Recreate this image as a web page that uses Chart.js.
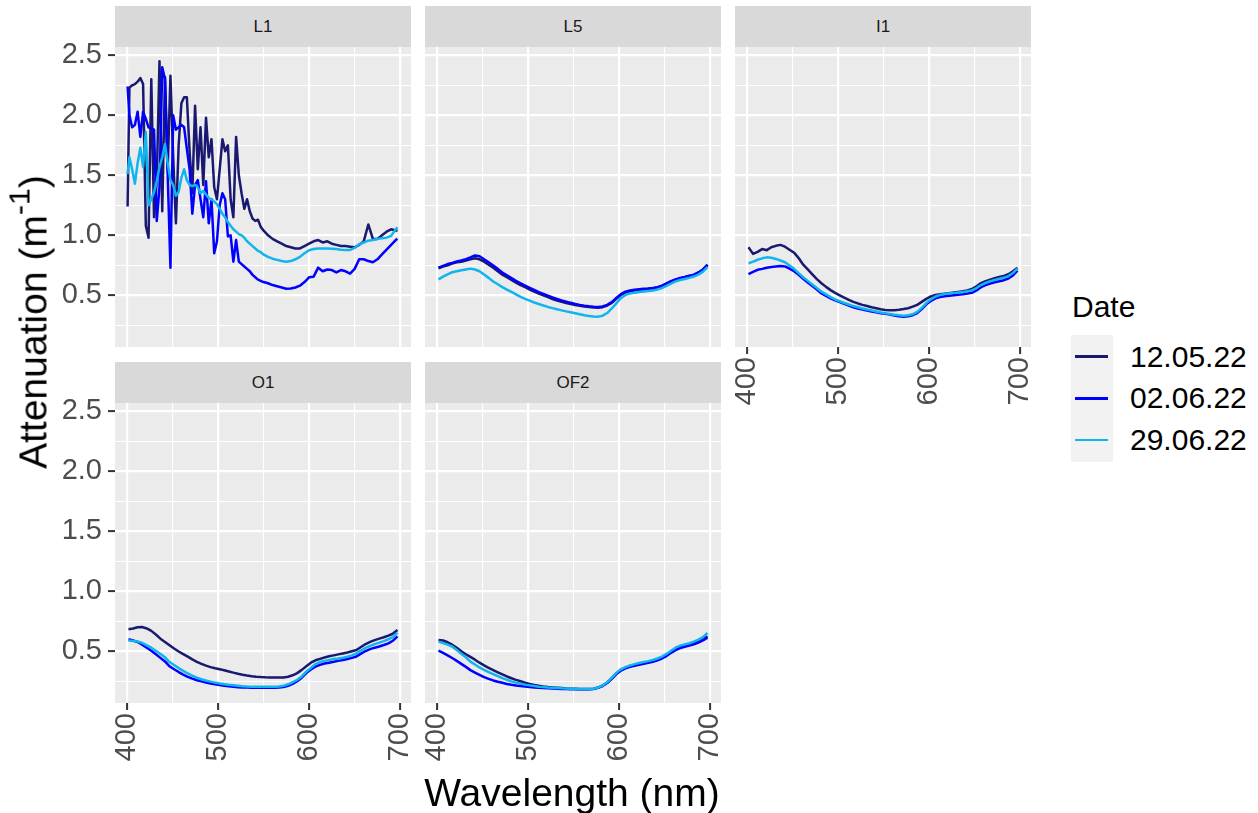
<!DOCTYPE html>
<html>
<head>
<meta charset="utf-8">
<script src="https://cdn.jsdelivr.net/npm/chart.js@4/dist/chart.umd.min.js"></script>
<style>
  html, body { margin: 0; padding: 0; background: #ffffff; }
  body { width: 1258px; height: 813px; position: relative; overflow: hidden;
         font-family: "Liberation Sans", Arial, Helvetica, sans-serif; }
  canvas { position: absolute; }
  .strip { position: absolute; background: #d9d9d9; color: #1a1a1a; font-size: 17px;
           display: flex; align-items: center; justify-content: center; }
  .title { position: absolute; color: #000; white-space: nowrap; font-size: 39px; line-height: 1; }
  .title sup { font-size: 0.78em; vertical-align: 0.55em; line-height: 0; }
  #legend-title { position: absolute; left: 1072px; top: 307px; transform: translateY(-50%);
                  font-size: 30px; line-height: 1; color: #000; }
  #legend-keys { position: absolute; left: 1071px; top: 335px; width: 42px; height: 127px; background: #f2f2f2; }
  .key-line { position: absolute; left: 4px; width: 33px; height: 2.6px; }
  .key-label { position: absolute; left: 1130px; font-size: 30px; line-height: 1; color: #000;
               transform: translateY(-50%); }
</style>
</head>
<body>
<script>
// ---- facets, dates and axis ticks ----
const panelNames = ['L1', 'L5', 'I1', 'O1', 'OF2'];
const dateLabels = ['12.05.22', '02.06.22', '29.06.22'];
const dateColors = ['#191970', '#0000ff', '#10b4ee'];
const yTickValues = [0.25, 0.5, 0.75, 1.0, 1.25, 1.5, 1.75, 2.0, 2.25, 2.5];
const yTickMajor = [0.5, 1.0, 1.5, 2.0, 2.5];
const xTickValues = [400, 450, 500, 550, 600, 650, 700];
const xTickMajor = [400, 500, 600, 700];

// ---- wavelengths (nm) ----
const wavelength = [402, 407, 412, 417, 422, 427, 432, 437, 442, 447,
  452, 457, 462, 467, 472, 477, 482, 487, 492, 497,
  502, 507, 512, 517, 522, 527, 532, 537, 542, 547,
  552, 557, 562, 567, 572, 577, 582, 587, 592, 597,
  602, 607, 612, 617, 622, 627, 632, 637, 642, 647,
  652, 657, 662, 667, 672, 677, 682, 687, 692, 697];
const wavelengthL1 = [401, 403, 406, 409, 412, 415, 418, 421, 424, 427,
  430, 433, 436, 439, 442, 445, 448, 451, 454, 457,
  460, 463, 466, 469, 472, 475, 478, 481, 484, 487,
  490, 493, 496, 499, 502, 505, 508, 511, 514, 517,
  520, 523, 526, 529, 532, 535, 538, 541, 544, 547, 550,
  555, 560, 565, 570, 575, 580, 585, 590, 595, 600,
  605, 610, 615, 620, 625, 630, 635, 640, 645, 650,
  655, 660, 665, 670, 675, 680, 685, 690, 695, 697];

// ---- attenuation (m^-1) per station and date ----
const l1_12May = [1.24, 2.23, 2.25, 2.26, 2.28, 2.31, 2.26, 1.08, 0.98, 2.30,
  1.15, 1.45, 2.45, 1.20, 2.32, 1.55, 2.33, 1.65, 1.10, 1.75,
  2.10, 2.15, 2.15, 1.70, 1.35, 2.08, 1.55, 1.90, 1.42, 1.98,
  1.65, 1.80, 1.40, 1.30, 1.55, 1.80, 1.70, 1.75, 1.30, 1.15,
  1.82, 1.50, 1.35, 1.22, 1.30, 1.20, 1.14, 1.12, 1.13, 1.07, 1.04,
  1.00, 0.97, 0.95, 0.93, 0.91, 0.90, 0.89, 0.89, 0.91, 0.93,
  0.95, 0.96, 0.94, 0.95, 0.93, 0.92, 0.91, 0.91, 0.905, 0.90,
  0.92, 0.95, 1.09, 0.97, 0.97, 1.00, 1.03, 1.05, 1.04, 1.04];
const l1_02Jun = [2.24, 2.00, 1.90, 1.92, 2.03, 1.82, 2.03, 1.97, 1.90, 1.89,
  1.88, 1.12, 1.40, 2.40, 2.30, 1.50, 0.73, 2.00, 1.88, 1.90,
  1.92, 1.90, 1.72, 1.55, 1.18, 1.42, 1.46, 1.30, 1.15, 1.45,
  1.10, 1.30, 0.85, 0.95, 1.25, 1.35, 1.30, 0.99, 1.00, 0.78,
  0.96, 0.78, 0.76, 0.74, 0.72, 0.70, 0.67, 0.65, 0.63, 0.62, 0.61,
  0.60, 0.585, 0.575, 0.565, 0.555, 0.556, 0.565, 0.58, 0.61, 0.65,
  0.655, 0.73, 0.70, 0.715, 0.71, 0.69, 0.71, 0.70, 0.68, 0.72,
  0.80, 0.80, 0.785, 0.775, 0.80, 0.84, 0.88, 0.92, 0.96, 0.97];
const l1_29Jun = [1.51, 1.65, 1.55, 1.43, 1.60, 1.73, 1.57, 1.86, 1.25, 1.30,
  1.36, 1.45, 1.57, 1.65, 1.76, 1.60, 1.46, 1.42, 1.33, 1.36,
  1.48, 1.55, 1.46, 1.42, 1.41, 1.42, 1.40, 1.35, 1.37, 1.34,
  1.31, 1.30, 1.28, 1.26, 1.22, 1.18, 1.15, 1.11, 1.08, 1.05,
  1.03, 1.01, 1.00, 0.98, 0.95, 0.93, 0.91, 0.89, 0.87, 0.86, 0.84,
  0.82, 0.805, 0.795, 0.785, 0.78, 0.785, 0.80, 0.82, 0.85, 0.875,
  0.885, 0.89, 0.89, 0.89, 0.888, 0.885, 0.88, 0.878, 0.878, 0.895,
  0.925, 0.94, 0.955, 0.96, 0.97, 0.975, 0.98, 0.995, 1.05, 1.065];

const l5_12May = [0.725, 0.74, 0.75, 0.765, 0.775, 0.78, 0.79, 0.80, 0.808, 0.80,
  0.78, 0.755, 0.73, 0.70, 0.672, 0.65, 0.627, 0.605, 0.585, 0.567,
  0.548, 0.53, 0.515, 0.50, 0.484, 0.469, 0.457, 0.446, 0.436, 0.427,
  0.419, 0.412, 0.406, 0.402, 0.398, 0.397, 0.401, 0.415, 0.437, 0.47,
  0.503, 0.522, 0.533, 0.54, 0.545, 0.549, 0.553, 0.557, 0.565, 0.575,
  0.595, 0.613, 0.63, 0.641, 0.65, 0.66, 0.67, 0.688, 0.712, 0.752];
const l5_02Jun = [0.73, 0.745, 0.76, 0.77, 0.782, 0.79, 0.80, 0.815, 0.832, 0.825,
  0.80, 0.775, 0.748, 0.72, 0.69, 0.667, 0.643, 0.62, 0.60, 0.58,
  0.562, 0.544, 0.527, 0.512, 0.496, 0.482, 0.469, 0.457, 0.447, 0.437,
  0.428, 0.42, 0.413, 0.408, 0.404, 0.403, 0.407, 0.42, 0.443, 0.477,
  0.51, 0.53, 0.54, 0.546, 0.55, 0.554, 0.557, 0.561, 0.568, 0.58,
  0.60, 0.618, 0.633, 0.645, 0.653, 0.662, 0.672, 0.69, 0.715, 0.755];
const l5_29Jun = [0.633, 0.655, 0.675, 0.692, 0.70, 0.708, 0.715, 0.722, 0.715, 0.70,
  0.673, 0.645, 0.615, 0.592, 0.568, 0.548, 0.528, 0.507, 0.487, 0.47,
  0.455, 0.44, 0.427, 0.415, 0.403, 0.393, 0.383, 0.374, 0.366, 0.358,
  0.35, 0.342, 0.334, 0.327, 0.323, 0.322, 0.33, 0.352, 0.39, 0.433,
  0.476, 0.503, 0.515, 0.522, 0.527, 0.531, 0.535, 0.539, 0.548, 0.56,
  0.578, 0.598, 0.615, 0.627, 0.635, 0.645, 0.656, 0.672, 0.697, 0.735];

const i1_12May = [0.90, 0.845, 0.862, 0.885, 0.876, 0.90, 0.912, 0.92, 0.905, 0.88,
  0.855, 0.81, 0.755, 0.715, 0.675, 0.635, 0.60, 0.57, 0.543, 0.52,
  0.50, 0.48, 0.462, 0.445, 0.432, 0.42, 0.41, 0.40, 0.392, 0.384,
  0.378, 0.375, 0.376, 0.38, 0.385, 0.392, 0.405, 0.42, 0.445, 0.47,
  0.49, 0.502, 0.508, 0.513, 0.518, 0.523, 0.528, 0.533, 0.54, 0.552,
  0.575, 0.602, 0.618, 0.63, 0.642, 0.652, 0.662, 0.675, 0.70, 0.73];
const i1_02Jun = [0.677, 0.695, 0.712, 0.72, 0.73, 0.735, 0.74, 0.744, 0.74, 0.722,
  0.70, 0.67, 0.638, 0.607, 0.578, 0.548, 0.515, 0.494, 0.475, 0.457,
  0.443, 0.428, 0.414, 0.40, 0.39, 0.381, 0.373, 0.365, 0.358, 0.351,
  0.345, 0.339, 0.332, 0.326, 0.322, 0.325, 0.334, 0.352, 0.385, 0.425,
  0.452, 0.474, 0.486, 0.492, 0.497, 0.501, 0.505, 0.509, 0.514, 0.521,
  0.54, 0.567, 0.585, 0.598, 0.608, 0.617, 0.626, 0.64, 0.665, 0.705];
const i1_29Jun = [0.766, 0.78, 0.796, 0.808, 0.816, 0.812, 0.803, 0.79, 0.775, 0.748,
  0.72, 0.685, 0.65, 0.62, 0.59, 0.56, 0.53, 0.507, 0.485, 0.465,
  0.45, 0.436, 0.423, 0.41, 0.40, 0.39, 0.381, 0.373, 0.365, 0.357,
  0.35, 0.344, 0.338, 0.333, 0.33, 0.333, 0.342, 0.362, 0.395, 0.435,
  0.466, 0.49, 0.503, 0.51, 0.515, 0.52, 0.524, 0.528, 0.533, 0.54,
  0.56, 0.585, 0.603, 0.617, 0.628, 0.638, 0.647, 0.66, 0.685, 0.725];

const o1_12May = [0.683, 0.69, 0.70, 0.702, 0.69, 0.67, 0.64, 0.605, 0.578, 0.55,
  0.523, 0.498, 0.476, 0.455, 0.432, 0.412, 0.395, 0.38, 0.368, 0.358,
  0.35, 0.342, 0.332, 0.322, 0.313, 0.305, 0.298, 0.292, 0.288, 0.285,
  0.283, 0.282, 0.281, 0.281, 0.282, 0.288, 0.30, 0.318, 0.345, 0.375,
  0.405, 0.425, 0.437, 0.448, 0.458, 0.466, 0.474, 0.482, 0.49, 0.50,
  0.51, 0.535, 0.56, 0.578, 0.593, 0.605, 0.617, 0.63, 0.648, 0.678];
const o1_02Jun = [0.60, 0.59, 0.577, 0.555, 0.53, 0.505, 0.475, 0.445, 0.415, 0.375,
  0.35, 0.327, 0.306, 0.287, 0.272, 0.259, 0.249, 0.24, 0.232, 0.225,
  0.219, 0.213, 0.208, 0.204, 0.201, 0.199, 0.198, 0.197, 0.197, 0.197,
  0.197, 0.197, 0.197, 0.199, 0.203, 0.212, 0.228, 0.25, 0.28, 0.318,
  0.348, 0.372, 0.387, 0.398, 0.405, 0.412, 0.42, 0.427, 0.436, 0.445,
  0.457, 0.48, 0.502, 0.518, 0.53, 0.54, 0.552, 0.566, 0.588, 0.625];
const o1_29Jun = [0.589, 0.585, 0.582, 0.57, 0.55, 0.53, 0.505, 0.478, 0.45, 0.41,
  0.385, 0.36, 0.337, 0.315, 0.296, 0.28, 0.267, 0.256, 0.247, 0.239,
  0.232, 0.226, 0.221, 0.217, 0.213, 0.209, 0.206, 0.205, 0.204, 0.204,
  0.204, 0.204, 0.205, 0.207, 0.213, 0.225, 0.242, 0.262, 0.29, 0.33,
  0.362, 0.392, 0.41, 0.42, 0.428, 0.435, 0.44, 0.446, 0.455, 0.466,
  0.482, 0.505, 0.528, 0.545, 0.56, 0.572, 0.585, 0.60, 0.62, 0.655];

const of2_12May = [0.595, 0.59, 0.575, 0.555, 0.53, 0.50, 0.475, 0.453, 0.43, 0.405,
  0.382, 0.362, 0.343, 0.325, 0.308, 0.29, 0.275, 0.262, 0.25, 0.238,
  0.228, 0.219, 0.212, 0.206, 0.202, 0.199, 0.196, 0.193, 0.19, 0.188,
  0.187, 0.186, 0.186, 0.186, 0.188, 0.198, 0.215, 0.24, 0.275, 0.315,
  0.345, 0.363, 0.375, 0.385, 0.395, 0.403, 0.411, 0.42, 0.432, 0.447,
  0.467, 0.495, 0.52, 0.538, 0.549, 0.558, 0.57, 0.583, 0.60, 0.625];
const of2_02Jun = [0.505, 0.487, 0.466, 0.444, 0.42, 0.395, 0.37, 0.343, 0.323, 0.303,
  0.285, 0.27, 0.257, 0.246, 0.237, 0.228, 0.221, 0.215, 0.21, 0.206,
  0.202, 0.199, 0.196, 0.194, 0.192, 0.19, 0.188, 0.186, 0.185, 0.184,
  0.183, 0.183, 0.183, 0.184, 0.186, 0.195, 0.21, 0.235, 0.27, 0.31,
  0.338, 0.357, 0.37, 0.38, 0.388, 0.395, 0.404, 0.413, 0.425, 0.44,
  0.46, 0.487, 0.51, 0.527, 0.538, 0.547, 0.558, 0.572, 0.59, 0.613];
const of2_29Jun = [0.58, 0.568, 0.555, 0.54, 0.51, 0.48, 0.45, 0.414, 0.39, 0.365,
  0.345, 0.327, 0.31, 0.293, 0.276, 0.261, 0.249, 0.239, 0.23, 0.222,
  0.216, 0.21, 0.205, 0.202, 0.199, 0.197, 0.195, 0.192, 0.19, 0.188,
  0.187, 0.186, 0.186, 0.186, 0.188, 0.198, 0.215, 0.242, 0.278, 0.32,
  0.35, 0.368, 0.382, 0.393, 0.403, 0.41, 0.418, 0.427, 0.44, 0.456,
  0.478, 0.505, 0.53, 0.547, 0.557, 0.567, 0.58, 0.597, 0.618, 0.652];

// ---- facet layout (3 columns, 2 rows, shared scales) ----
const FONT = '"Liberation Sans", Arial, Helvetica, sans-serif';
const COLS = [115, 425, 735];
const ROWS = [47, 403];
const PW = 296, PH = 300, STRIP_H = 41;
const PAD = 30, YAX = 70, XAX = 64;
const X_MIN = 387.2, X_MAX = 711.8, Y_MIN = 0.069, Y_MAX = 2.569;
const LINE_W = 2.5;

const panels = [
  { name: panelNames[0], col: 0, row: 0, yAxis: true,  xAxis: false, x: wavelengthL1, series: [l1_12May, l1_02Jun, l1_29Jun] },
  { name: panelNames[1], col: 1, row: 0, yAxis: false, xAxis: false, x: wavelength,   series: [l5_12May, l5_02Jun, l5_29Jun] },
  { name: panelNames[2], col: 2, row: 0, yAxis: false, xAxis: true,  x: wavelength,   series: [i1_12May, i1_02Jun, i1_29Jun] },
  { name: panelNames[3], col: 0, row: 1, yAxis: true,  xAxis: true,  x: wavelength,   series: [o1_12May, o1_02Jun, o1_29Jun] },
  { name: panelNames[4], col: 1, row: 1, yAxis: false, xAxis: true,  x: wavelength,   series: [of2_12May, of2_02Jun, of2_29Jun] }
];

// grey panel background behind the grid
const panelBackground = {
  id: 'panelBackground',
  beforeDraw(chart) {
    const { ctx, chartArea: a } = chart;
    ctx.save();
    ctx.fillStyle = '#ebebeb';
    ctx.fillRect(a.left, a.top, a.right - a.left, a.bottom - a.top);
    ctx.restore();
  }
};

function makePanel(p) {
  const L = COLS[p.col], T = ROWS[p.row];
  const yw = p.yAxis ? YAX : 0;
  const xh = p.xAxis ? XAX : 0;

  const strip = document.createElement('div');
  strip.className = 'strip';
  strip.style.left = L + 'px';
  strip.style.top = (T - STRIP_H) + 'px';
  strip.style.width = PW + 'px';
  strip.style.height = STRIP_H + 'px';
  strip.textContent = p.name;
  document.body.appendChild(strip);

  const cv = document.createElement('canvas');
  const w = PW + 2 * PAD + yw, h = PH + 2 * PAD + xh;
  cv.width = w; cv.height = h;
  cv.style.left = (L - PAD - yw) + 'px';
  cv.style.top = (T - PAD) + 'px';
  cv.style.width = w + 'px';
  cv.style.height = h + 'px';
  document.body.appendChild(cv);

  const datasets = p.series.map((vals, k) => ({
    label: dateLabels[k],
    data: p.x.map((x, i) => ({ x: x, y: vals[i] })),
    borderColor: dateColors[k],
    backgroundColor: dateColors[k],
    borderWidth: LINE_W,
    borderJoinStyle: 'round',
    pointRadius: 0,
    tension: 0,
    fill: false,
    order: 3 - k
  }));

  new Chart(cv, {
    type: 'line',
    data: { datasets },
    plugins: [panelBackground],
    options: {
      responsive: false,
      animation: false,
      devicePixelRatio: 1,
      events: [],
      layout: { padding: PAD },
      plugins: { legend: { display: false }, tooltip: { enabled: false } },
      scales: {
        x: {
          type: 'linear', position: 'bottom', bounds: 'data',
          min: X_MIN, max: X_MAX,
          afterBuildTicks: s => { s.ticks = xTickValues.map(v => ({ value: v })); },
          afterFit: s => { s.height = xh; },
          border: { display: false },
          grid: {
            color: '#ffffff',
            lineWidth: c => xTickMajor.includes(c.tick && c.tick.value) ? 2.2 : 1.1,
            drawTicks: p.xAxis,
            tickLength: 7,
            tickWidth: 2,
            tickColor: c => xTickMajor.includes(c.tick && c.tick.value) ? '#333333' : 'rgba(0,0,0,0)'
          },
          ticks: {
            display: p.xAxis, autoSkip: false, minRotation: 90, maxRotation: 90,
            padding: 3, color: '#4d4d4d', font: { family: FONT, size: 29 },
            callback: v => xTickMajor.includes(v) ? String(v) : ''
          }
        },
        y: {
          type: 'linear', position: 'left', bounds: 'data',
          min: Y_MIN, max: Y_MAX,
          afterBuildTicks: s => { s.ticks = yTickValues.map(v => ({ value: v })); },
          afterFit: s => { s.width = yw; },
          border: { display: false },
          grid: {
            color: '#ffffff',
            lineWidth: c => yTickMajor.includes(c.tick && c.tick.value) ? 2.2 : 1.1,
            drawTicks: p.yAxis,
            tickLength: 7,
            tickWidth: 2,
            tickColor: c => yTickMajor.includes(c.tick && c.tick.value) ? '#333333' : 'rgba(0,0,0,0)'
          },
          ticks: {
            display: p.yAxis, autoSkip: false,
            padding: 6, color: '#4d4d4d', font: { family: FONT, size: 29 },
            callback: v => yTickMajor.includes(v) ? v.toFixed(1) : ''
          }
        }
      }
    }
  });
}

panels.forEach(makePanel);

// axis titles
const yTitle = document.createElement('div');
yTitle.className = 'title';
yTitle.innerHTML = 'Attenuation (m<sup>-1</sup>)';
yTitle.style.left = '33px';
yTitle.style.top = '322px';
yTitle.style.transform = 'translate(-50%, -50%) rotate(-90deg)';
document.body.appendChild(yTitle);

const xTitle = document.createElement('div');
xTitle.className = 'title';
xTitle.textContent = 'Wavelength (nm)';
xTitle.style.left = '572px';
xTitle.style.top = '792px';
xTitle.style.transform = 'translate(-50%, -50%)';
document.body.appendChild(xTitle);

// legend
const lt = document.createElement('div');
lt.id = 'legend-title';
lt.textContent = 'Date';
document.body.appendChild(lt);
const keys = document.createElement('div');
keys.id = 'legend-keys';
document.body.appendChild(keys);
const keyCentres = [21.7, 63.3, 105];
dateLabels.forEach((lab, k) => {
  const line = document.createElement('div');
  line.className = 'key-line';
  line.style.top = (keyCentres[k] - 1.3) + 'px';
  line.style.background = dateColors[k];
  keys.appendChild(line);
  const t = document.createElement('div');
  t.className = 'key-label';
  t.style.top = (335 + keyCentres[k]) + 'px';
  t.textContent = lab;
  document.body.appendChild(t);
});
</script>
</body>
</html>
